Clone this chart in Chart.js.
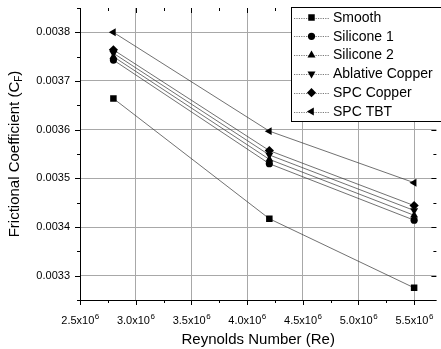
<!DOCTYPE html>
<html>
<head>
<meta charset="utf-8">
<script src="https://cdn.jsdelivr.net/npm/chart.js@4.4.1/dist/chart.umd.min.js"></script>
<style>
  html, body { margin: 0; padding: 0; background: #fff; }
  #wrap { width: 441px; height: 349px; }
</style>
</head>
<body>
<div id="wrap"><canvas id="grafico" width="441" height="349"></canvas></div>
<script>
// datos
const reynolds = [2.8e6, 4.2e6, 5.5e6];
const series = ["Smooth", "Silicone 1", "Silicone 2", "Ablative Copper", "SPC Copper", "SPC TBT"];
const smooth = [0.003664, 0.003417, 0.003275];
const silicone1 = [0.003743, 0.003530, 0.003414];
const silicone2 = [0.003750, 0.003539, 0.003424];
const ablative = [0.003757, 0.003548, 0.003434];
const spcCopper = [0.003764, 0.003557, 0.003444];
const spcTbt = [0.003800, 0.003597, 0.003491];
const xTicks = [2.5e6, 3.0e6, 3.5e6, 4.0e6, 4.5e6, 5.0e6, 5.5e6];
const yTicks = [0.0033, 0.0034, 0.0035, 0.0036, 0.0037, 0.0038];

const valores = [smooth, silicone1, silicone2, ablative, spcCopper, spcTbt];
const marcadores = [
  { style: "rect", rot: 0, r: 4.6 },
  { style: "circle", rot: 0, r: 3.6 },
  { style: "triangle", rot: 0, r: 4.6 },
  { style: "triangle", rot: 180, r: 4.6 },
  { style: "rectRot", rot: 0, r: 4.6 },
  { style: "triangle", rot: -90, r: 4.6 }
];

const FONT = "Arial, 'Liberation Sans', sans-serif";

function esMayor(v, paso) {
  const q = v / paso;
  return Math.abs(q - Math.round(q)) < 1e-6;
}

// dibuja un marcador a mano (para la leyenda)
function marcador(ctx, m, x, y) {
  ctx.save();
  ctx.translate(x, y);
  ctx.rotate(m.rot * Math.PI / 180);
  ctx.fillStyle = "#000";
  ctx.beginPath();
  const r = m.r;
  if (m.style === "rect") {
    const s = Math.SQRT1_2 * r;
    ctx.rect(-s, -s, 2 * s, 2 * s);
  } else if (m.style === "circle") {
    ctx.arc(0, 0, r, 0, Math.PI * 2);
  } else if (m.style === "rectRot") {
    ctx.moveTo(0, -r); ctx.lineTo(r, 0); ctx.lineTo(0, r); ctx.lineTo(-r, 0);
  } else {
    const h = r * 1.5;
    ctx.moveTo(0, -r); ctx.lineTo(r * 0.87, h - r); ctx.lineTo(-r * 0.87, h - r);
  }
  ctx.closePath();
  ctx.fill();
  ctx.restore();
}

const ejes = {
  id: "ejes",
  beforeDatasetsDraw(chart) {
    const { ctx, chartArea: a, scales } = chart;
    ctx.save();
    ctx.strokeStyle = "#000";
    ctx.lineWidth = 1;
    // ticks eje x
    for (let v = 2.5e6; v <= 5.71e6; v += 0.25e6) {
      const px = Math.round(scales.x.getPixelForValue(v)) + 0.5;
      const l = esMayor(v, 0.5e6) ? 5 : 3;
      ctx.beginPath();
      ctx.moveTo(px, a.bottom); ctx.lineTo(px, a.bottom + l);
      ctx.moveTo(px, a.top); ctx.lineTo(px, a.top + l);
      ctx.stroke();
    }
    // ticks eje y
    for (let k = 0; k <= 12; k++) {
      const v = 0.00325 + k * 0.00005;
      const py = Math.round(scales.y.getPixelForValue(v)) + 0.5;
      const l = k % 2 === 1 ? 5 : 3;
      ctx.beginPath();
      ctx.moveTo(a.left, py); ctx.lineTo(a.left - l, py);
      ctx.moveTo(a.right, py); ctx.lineTo(a.right - l, py);
      ctx.stroke();
    }
    ctx.beginPath();
    ctx.moveTo(Math.round(a.left) + 0.5, a.top);
    ctx.lineTo(Math.round(a.left) + 0.5, a.bottom);
    ctx.moveTo(a.left, Math.round(a.bottom) + 0.5);
    ctx.lineTo(a.right, Math.round(a.bottom) + 0.5);
    ctx.stroke();
    ctx.restore();
  },
  afterDraw(chart) {
    const { ctx, chartArea: a, scales } = chart;
    ctx.save();
    ctx.fillStyle = "#000";
    ctx.textBaseline = "alphabetic";
    ctx.textAlign = "left";
    // etiquetas eje x con exponente
    xTicks.forEach(v => {
      const base = (v / 1e6).toFixed(1) + "x10";
      ctx.font = "11px " + FONT;
      const wb = ctx.measureText(base).width;
      ctx.font = "8px " + FONT;
      const we = ctx.measureText("6").width;
      const x0 = scales.x.getPixelForValue(v) - (wb + we) / 2;
      ctx.font = "11px " + FONT;
      ctx.fillText(base, x0, 324);
      ctx.font = "8px " + FONT;
      ctx.fillText("6", x0 + wb + 0.5, 319);
    });
    // titulo eje x
    ctx.font = "15px " + FONT;
    ctx.textAlign = "center";
    ctx.textBaseline = "middle";
    ctx.fillText("Reynolds Number (Re)", (a.left + a.right) / 2, 340);
    // titulo eje y con subindice
    ctx.translate(15, (a.top + a.bottom) / 2);
    ctx.rotate(-Math.PI / 2);
    const t1 = "Frictional Coefficient (C", t2 = "F", t3 = ")";
    ctx.font = "15px " + FONT;
    const w1 = ctx.measureText(t1).width, w3 = ctx.measureText(t3).width;
    ctx.font = "10px " + FONT;
    const w2 = ctx.measureText(t2).width;
    let x0 = -(w1 + w2 + w3) / 2;
    ctx.textAlign = "left";
    ctx.font = "15px " + FONT;
    ctx.fillText(t1, x0, 0);
    ctx.font = "10px " + FONT;
    ctx.fillText(t2, x0 + w1, 4);
    ctx.font = "15px " + FONT;
    ctx.fillText(t3, x0 + w1 + w2, 0);
    ctx.restore();
  },
  afterDatasetsDraw(chart) {
    // leyenda dentro del area
    const ctx = chart.ctx;
    ctx.save();
    ctx.fillStyle = "#fff";
    ctx.fillRect(291.5, 7.5, 160, 114);
    ctx.strokeStyle = "#000";
    ctx.lineWidth = 1;
    ctx.strokeRect(291.5, 7.5, 160, 114);
    ctx.font = "14px " + FONT;
    ctx.textBaseline = "middle";
    ctx.textAlign = "left";
    series.forEach((nombre, i) => {
      const y = 17.5 + i * 18.8;
      ctx.strokeStyle = "#555";
      ctx.lineWidth = 0.8;
      ctx.setLineDash([1.2, 1.2]);
      ctx.beginPath();
      ctx.moveTo(294, Math.round(y) + 0.5);
      ctx.lineTo(329, Math.round(y) + 0.5);
      ctx.stroke();
      ctx.setLineDash([]);
      marcador(ctx, marcadores[i], 311.5, y);
      ctx.fillStyle = "#000";
      ctx.fillText(nombre, 333, y + 0.5);
    });
    ctx.restore();
  }
};

const datasets = series.map((nombre, i) => ({
  label: nombre,
  data: reynolds.map((x, j) => ({ x: x, y: valores[i][j] })),
  showLine: true,
  borderColor: "#333",
  borderWidth: 0.7,
  backgroundColor: "#000",
  pointBackgroundColor: "#000",
  pointBorderWidth: 0,
  pointStyle: marcadores[i].style,
  pointRotation: marcadores[i].rot,
  pointRadius: marcadores[i].r,
  pointHoverRadius: marcadores[i].r
}));

new Chart(document.getElementById("grafico"), {
  type: "scatter",
  data: { datasets },
  options: {
    responsive: false,
    animation: false,
    events: [],
    layout: { padding: { top: 8, right: 2, left: 0, bottom: 0 } },
    plugins: { legend: { display: false }, tooltip: { enabled: false } },
    scales: {
      x: {
        type: "linear",
        min: 2.5e6,
        max: 5.7e6,
        afterFit: s => { s.height = 49; s.paddingLeft = 0; s.paddingRight = 0; },
        afterBuildTicks: s => { s.ticks = xTicks.map(v => ({ value: v })); },
        border: { display: false },
        grid: { color: "#a8a8a8", lineWidth: 1, drawTicks: false },
        ticks: {
          padding: 8,
          color: "#000",
          font: { size: 11, family: FONT },
          callback: () => ""
        }
      },
      y: {
        type: "linear",
        min: 0.00325,
        max: 0.00385,
        afterFit: s => { s.width = 80; s.paddingTop = 0; s.paddingBottom = 0; },
        afterBuildTicks: s => { s.ticks = yTicks.map(v => ({ value: v })); },
        border: { display: false },
        grid: { color: "#a8a8a8", lineWidth: 1, drawTicks: false },
        ticks: {
          padding: 10,
          color: "#000",
          font: { size: 11, family: FONT },
          callback: v => v.toFixed(4)
        }
      }
    }
  },
  plugins: [ejes]
});
</script>
</body>
</html>
